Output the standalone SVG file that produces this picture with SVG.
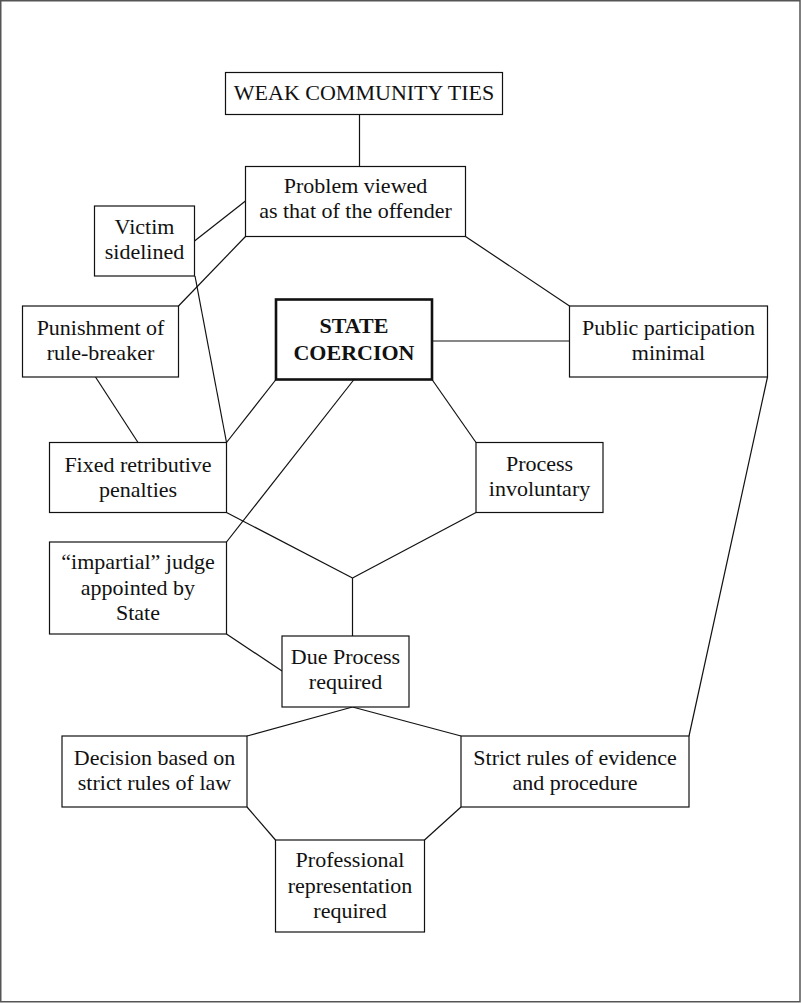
<svg xmlns="http://www.w3.org/2000/svg" width="801" height="1003" viewBox="0 0 801 1003">
<style>
.box{fill:#fff;stroke:#111;stroke-width:1.2}
.main{fill:#fff;stroke:#111;stroke-width:2.6}
.t{font-family:"Liberation Serif","Times New Roman",serif;font-size:22px;fill:#111;text-anchor:middle}
.b{font-weight:bold}
#connectors line{stroke:#111;stroke-width:1.2;fill:none}
</style>
<rect x="0" y="0" width="801" height="1003" fill="#fff"/>
<rect x="0.75" y="0.75" width="799.25" height="1001" fill="none" stroke="#555" stroke-width="1.5"/>
<g id="connectors">
<line x1="359.5" y1="114.5" x2="359.5" y2="166.5"/>
<line x1="194.5" y1="241" x2="245.5" y2="201"/>
<line x1="245.5" y1="236.5" x2="178.5" y2="306"/>
<line x1="195" y1="276" x2="226.5" y2="442.5"/>
<line x1="465.5" y1="236.5" x2="569.5" y2="306"/>
<line x1="432" y1="341" x2="569.5" y2="341"/>
<line x1="95.5" y1="377" x2="138" y2="442.5"/>
<line x1="276" y1="379.5" x2="226.5" y2="442.5"/>
<line x1="354" y1="379.5" x2="226.5" y2="542"/>
<line x1="432" y1="379.5" x2="476" y2="442.5"/>
<line x1="226.5" y1="512.5" x2="352.5" y2="578"/>
<line x1="476" y1="512.5" x2="352.5" y2="578"/>
<line x1="352.5" y1="578" x2="352.5" y2="636"/>
<line x1="226.5" y1="634" x2="282" y2="671"/>
<line x1="352.5" y1="707" x2="247" y2="736"/>
<line x1="352.5" y1="707" x2="461" y2="736"/>
<line x1="767.5" y1="377" x2="689" y2="736"/>
<line x1="247" y1="807" x2="275.5" y2="840"/>
<line x1="461" y1="807" x2="424.5" y2="840"/>
</g>
<g id="weak"><rect class="box" x="225.5" y="72.5" width="277" height="42"/><text class="t" x="364" y="99.5">WEAK COMMUNITY TIES</text></g>
<g id="problem"><rect class="box" x="245.5" y="166.5" width="220" height="70"/><text class="t" x="355.5" y="193">Problem viewed</text><text class="t" x="355.5" y="218">as that of the offender</text></g>
<g id="victim"><rect class="box" x="94.5" y="206" width="100" height="70"/><text class="t" x="144.5" y="233.5">Victim</text><text class="t" x="144.5" y="258.5">sidelined</text></g>
<g id="punishment"><rect class="box" x="22.5" y="306" width="156" height="71"/><text class="t" x="100.5" y="335">Punishment of</text><text class="t" x="100.5" y="360">rule-breaker</text></g>
<g id="state"><rect class="main" x="276" y="299.5" width="156" height="80"/><text class="t b" x="354" y="333">STATE</text><text class="t b" x="354" y="360">COERCION</text></g>
<g id="public"><rect class="box" x="569.5" y="306" width="198" height="71"/><text class="t" x="668.5" y="335">Public participation</text><text class="t" x="668.5" y="360">minimal</text></g>
<g id="fixed"><rect class="box" x="49.5" y="442.5" width="177" height="70"/><text class="t" x="138" y="471.5">Fixed retributive</text><text class="t" x="138" y="496.5">penalties</text></g>
<g id="process"><rect class="box" x="476" y="442.5" width="127" height="70"/><text class="t" x="539.5" y="471">Process</text><text class="t" x="539.5" y="496">involuntary</text></g>
<g id="judge"><rect class="box" x="49.5" y="542" width="177" height="92"/><text class="t" x="138" y="569">“impartial” judge</text><text class="t" x="138" y="595">appointed by</text><text class="t" x="138" y="620">State</text></g>
<g id="due"><rect class="box" x="282" y="636" width="127" height="71"/><text class="t" x="345.5" y="663.5">Due Process</text><text class="t" x="345.5" y="689">required</text></g>
<g id="decision"><rect class="box" x="62" y="736" width="185" height="71"/><text class="t" x="154.5" y="765">Decision based on</text><text class="t" x="154.5" y="790">strict rules of law</text></g>
<g id="strict"><rect class="box" x="461" y="736" width="228" height="71"/><text class="t" x="575" y="765">Strict rules of evidence</text><text class="t" x="575" y="790">and procedure</text></g>
<g id="professional"><rect class="box" x="275.5" y="840" width="149" height="92"/><text class="t" x="350" y="867">Professional</text><text class="t" x="350" y="893">representation</text><text class="t" x="350" y="918">required</text></g>
</svg>
